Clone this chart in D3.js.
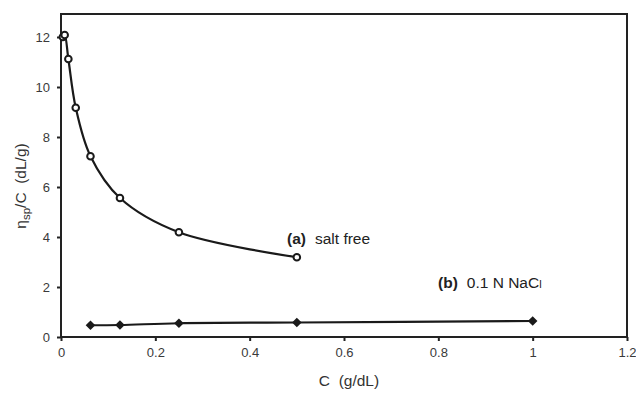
<!DOCTYPE html>
<html>
<head>
<meta charset="utf-8">
<script src="https://cdn.jsdelivr.net/npm/d3@7"></script>
<style>
  body { margin: 0; background: #fff; }
  svg { font-family: 'Liberation Sans', Arial, sans-serif; }
</style>
</head>
<body>
<svg id="chart" width="636" height="403"></svg>
<script>
// salt free series (a)
const saltFreeC = [0.0039, 0.0078, 0.0156, 0.03125, 0.0625, 0.125, 0.25, 0.5]
const saltFreeEta = [12.0, 12.08, 11.12, 9.17, 7.23, 5.56, 4.19, 3.19]

// 0.1 N NaCl series (b)
const naclC = [0.0625, 0.125, 0.25, 0.5, 1.0]
const naclEta = [0.47, 0.48, 0.55, 0.58, 0.64]

const xTicks = [0, 0.2, 0.4, 0.6, 0.8, 1, 1.2]
const yTicks = [0, 2, 4, 6, 8, 10, 12]

const svg = d3.select('#chart')

const plotLeft = 61, plotRight = 627, plotTop = 14, plotBottom = 337

const x = d3.scaleLinear().domain([0, 1.2]).range([plotLeft, plotRight])
const y = d3.scaleLinear().domain([0, 12.92]).range([plotBottom, plotTop])

// frame
svg.append('rect')
    .attr('x', plotLeft).attr('y', plotTop)
    .attr('width', plotRight - plotLeft).attr('height', plotBottom - plotTop)
    .attr('fill', 'none').attr('stroke', '#222').attr('stroke-width', 2)

const xaxis = d3.axisBottom(x).tickValues(xTicks).tickSize(4).tickPadding(7)
    .tickFormat(d => d3.format('')(d))
const yaxis = d3.axisLeft(y).tickValues(yTicks).tickSize(4).tickPadding(7)

svg.append('g').attr('class', 'xaxis').attr('transform', `translate(0,${plotBottom})`).call(xaxis)
svg.append('g').attr('class', 'yaxis').attr('transform', `translate(${plotLeft},0)`).call(yaxis)

svg.selectAll('.domain').remove()
svg.selectAll('.tick line').attr('stroke', '#222').attr('stroke-width', 2)
svg.selectAll('.tick text').attr('font-size', 13).attr('fill', '#3a3a3a')
    .attr('font-family', "'Liberation Sans', Arial, sans-serif")

const line = d3.line()
    .x(d => x(d[0]))
    .y(d => y(d[1]))
    .curve(d3.curveCatmullRom.alpha(0.5))

const saltFree = saltFreeC.map((c, i) => [c, saltFreeEta[i]])
const nacl = naclC.map((c, i) => [c, naclEta[i]])

svg.append('path').datum(saltFree)
    .attr('d', line).attr('fill', 'none').attr('stroke', '#1a1a1a').attr('stroke-width', 2.2)
svg.append('path').datum(nacl)
    .attr('d', line).attr('fill', 'none').attr('stroke', '#1a1a1a').attr('stroke-width', 2.2)

svg.append('g').selectAll('circle').data(saltFree).join('circle')
    .attr('cx', d => x(d[0])).attr('cy', d => y(d[1])).attr('r', 3.3)
    .attr('fill', '#fff').attr('stroke', '#1a1a1a').attr('stroke-width', 2)

// diamonds: rotated squares
const diamond = d3.symbol().type(d3.symbolSquare).size(46)
svg.append('g').selectAll('path').data(nacl).join('path')
    .attr('transform', d => `translate(${x(d[0])},${y(d[1])}) rotate(45)`)
    .attr('d', diamond).attr('fill', '#1a1a1a')

// series labels
const la = svg.append('text').attr('x', 287).attr('y', 244).attr('font-size', 15.5).attr('fill', '#222')
la.append('tspan').attr('font-weight', 'bold').text('(a)')
la.append('tspan').attr('dx', 9).text('salt free')

const lb = svg.append('text').attr('x', 438).attr('y', 288).attr('font-size', 15.5).attr('fill', '#222')
lb.append('tspan').attr('font-weight', 'bold').text('(b)')
lb.append('tspan').attr('dx', 9).text('0.1 N NaC')
lb.append('tspan').attr('font-size', 11).text('l')

// axis titles
svg.append('text').attr('x', 349).attr('y', 386).attr('text-anchor', 'middle')
    .attr('font-size', 15.5).attr('fill', '#333').attr('xml:space', 'preserve').text('C  (g/dL)')

const yt = svg.append('text').attr('transform', 'translate(26,186) rotate(-90)')
    .attr('text-anchor', 'middle').attr('font-size', 15.5).attr('fill', '#333')
yt.append('tspan').text('η')
yt.append('tspan').attr('font-size', 11.5).attr('dy', 4).text('sp')
yt.append('tspan').attr('dy', -4).attr('xml:space', 'preserve').text('/C  (dL/g)')
</script>
</body>
</html>
